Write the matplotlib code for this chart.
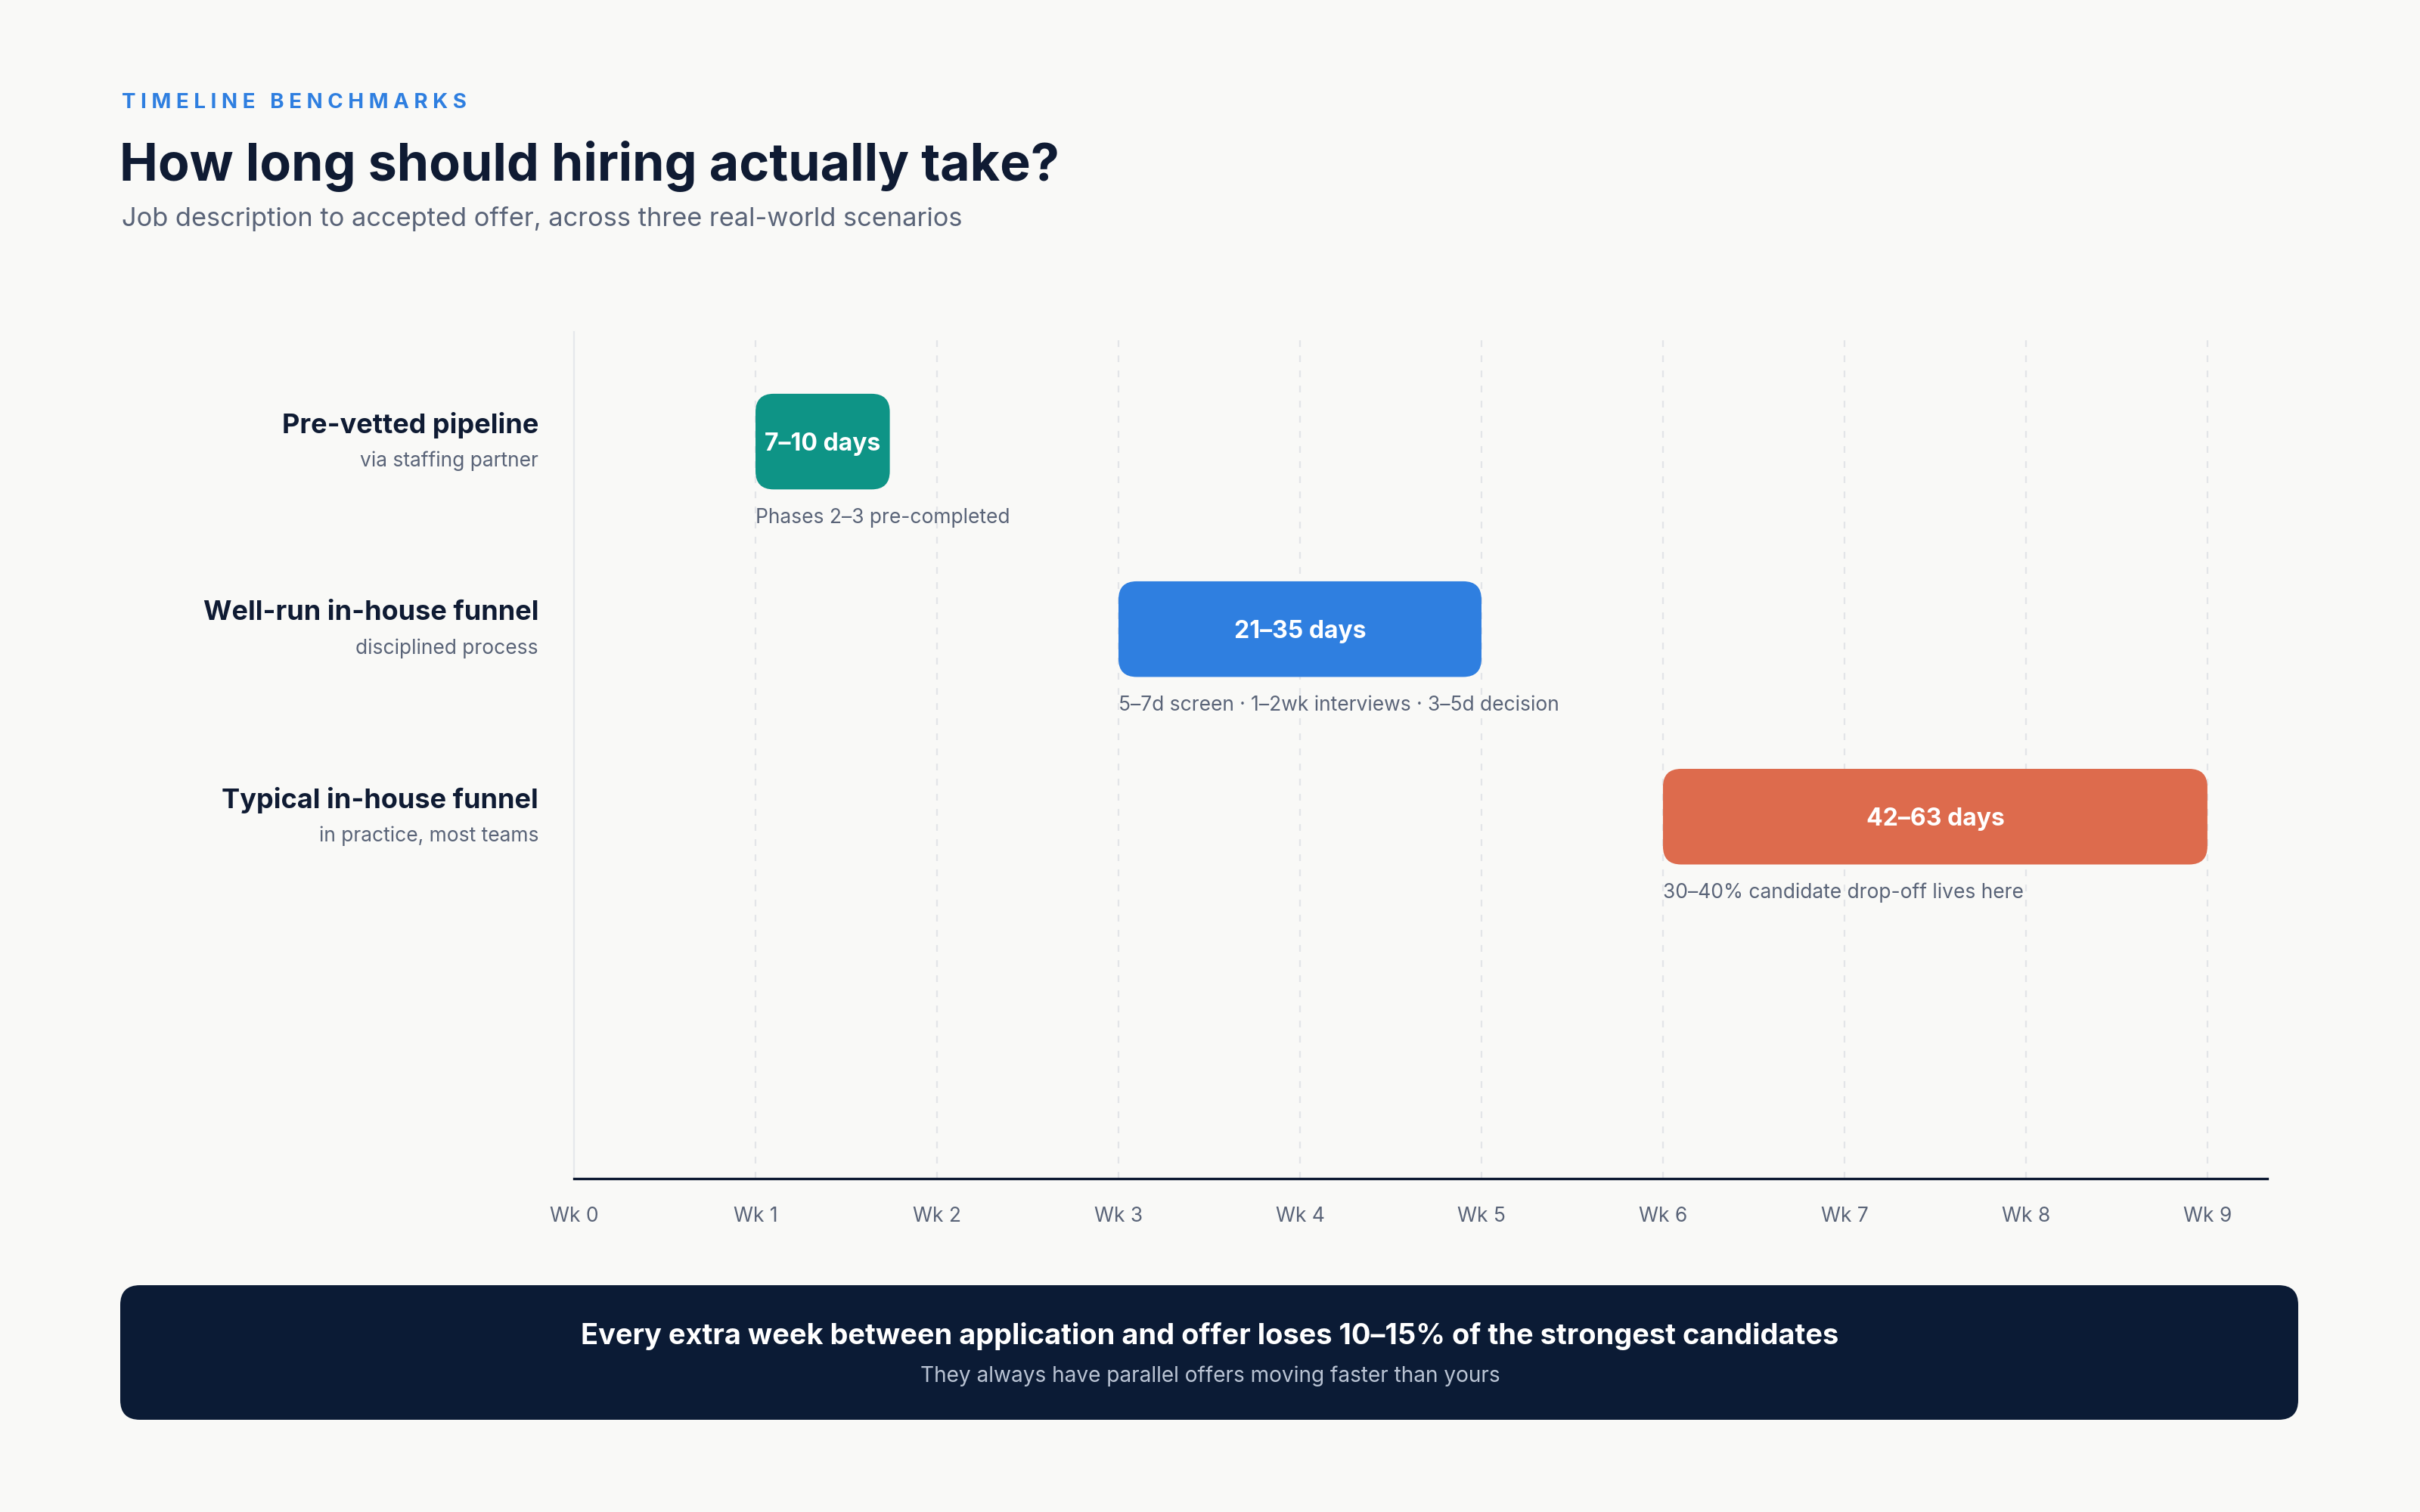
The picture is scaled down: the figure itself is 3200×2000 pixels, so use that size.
import numpy as np
import matplotlib
matplotlib.use("Agg")
from matplotlib import pyplot as plt
from matplotlib.patches import FancyBboxPatch

plt.rcParams['font.family'] = ['Inter', 'DejaVu Sans']

# data
scenarios = ["Pre-vetted pipeline", "Well-run in-house funnel", "Typical in-house funnel"]
subtitles = ["via staffing partner", "disciplined process", "in practice, most teams"]
days_lo = [7, 21, 42]
days_hi = [10, 35, 63]
bar_labels = ["7–10 days", "21–35 days", "42–63 days"]
notes = ["Phases 2–3 pre-completed",
         "5–7d screen · 1–2wk interviews · 3–5d decision",
         "30–40% candidate drop-off lives here"]
weeks = list(range(10))
week_labels = ["Wk %d" % w for w in weeks]

colors = ["#0E9486", "#2F7FE0", "#DD6B4D"]
bg = "#F9F9F7"
navy = "#0F1B33"
gray = "#5A6478"

fig = plt.figure(figsize=(16, 10), dpi=200, facecolor=bg)
ax = fig.add_axes([0.2372, 0.2205, 0.6997, 0.56])
ax.set_facecolor(bg)

ax.set_xlim(0, 9.33)
ax.set_ylim(3.93, -0.585)

# dashed week gridlines
for w in weeks[1:]:
    ax.axvline(w, color="#E3E5E8", lw=0.8, ls=(0, (4, 5)), zorder=0)

for s in ["top", "right"]:
    ax.spines[s].set_visible(False)
ax.spines["left"].set_color("#E6E8EB")
ax.spines["left"].set_linewidth(0.8)
ax.spines["bottom"].set_color(navy)
ax.spines["bottom"].set_linewidth(1.2)

ax.set_yticks([])
ax.set_xticks(weeks)
ax.set_xticklabels(week_labels, fontsize=9.5, color=gray)
ax.tick_params(axis="x", length=0, pad=13.5)

# aspect for rounded corners
fig.canvas.draw()
p0 = ax.transData.transform((0, 0))
p1 = ax.transData.transform((1, 1))
px_x = abs(p1[0] - p0[0])
px_y = abs(p1[1] - p0[1])
aspect = px_x / px_y

bar_h = 0.51
min_w = 0.74
radius = 24 / px_x
dy = 3 / px_y  # small nudge down for text

for i in range(len(scenarios)):
    x0 = days_lo[i] / 7
    w = max((days_hi[i] - days_lo[i]) / 7, min_w)
    patch = FancyBboxPatch((x0, i - bar_h / 2), w, bar_h,
                           boxstyle="round,pad=0,rounding_size=%f" % radius,
                           mutation_aspect=aspect,
                           fc=colors[i], ec="none", zorder=3)
    ax.add_patch(patch)
    ax.text(x0 + w / 2, i + dy, bar_labels[i], ha="center", va="center",
            color="white", fontsize=11.5, fontweight="bold", zorder=4)
    ax.text(x0, i + 0.395 + dy, notes[i], ha="left", va="center",
            color=gray, fontsize=9.5, zorder=4)
    ax.text(-0.021, i - 0.10 + dy, scenarios[i], transform=ax.get_yaxis_transform(),
            ha="right", va="center", color=navy, fontsize=13, fontweight="bold")
    ax.text(-0.021, i + 0.09 + dy, subtitles[i], transform=ax.get_yaxis_transform(),
            ha="right", va="center", color=gray, fontsize=9.5)

# header
fig.text(161 / 3200, 1 - 136 / 2000, "\u2009\u200a".join("TIMELINE BENCHMARKS"),
         ha="left", va="center", color="#2F7FE0", fontsize=10, fontweight="bold")
fig.text(158 / 3200, 1 - 220 / 2000, "How long should hiring actually take?",
         ha="left", va="center", color=navy, fontsize=24.5, fontweight="bold")
fig.text(161 / 3200, 1 - 290 / 2000,
         "Job description to accepted offer, across three real-world scenarios",
         ha="left", va="center", color=gray, fontsize=12.4)

# footer banner
banner = FancyBboxPatch((159 / 3200, 1 - 1878 / 2000), 2880 / 3200, 178 / 2000,
                        boxstyle="round,pad=0,rounding_size=%f" % (26 / 3200),
                        mutation_aspect=3200 / 2000,
                        transform=fig.transFigure, fc="#0B1B35", ec="none")
fig.add_artist(banner)
fig.text(0.5, 1 - 1767 / 2000,
         "Every extra week between application and offer loses 10–15% of the strongest candidates",
         ha="center", va="center", color="white", fontsize=13.7, fontweight="bold")
fig.text(0.5, 1 - 1820 / 2000, "They always have parallel offers moving faster than yours",
         ha="center", va="center", color="#B9C3D3", fontsize=10.1)

fig.savefig("out.png", dpi=200, facecolor=bg)
